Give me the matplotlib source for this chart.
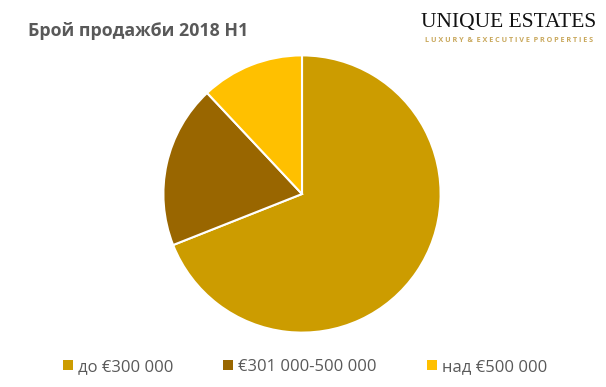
import matplotlib
matplotlib.use('Agg')
from matplotlib import pyplot as plt
from matplotlib.patches import Patch

labels = ['до €300 000', '€301 000-500 000', 'над €500 000']
values = [69, 19, 12]
colors = ['#CC9C00', '#996600', '#FFC000']

plt.rcParams['font.family'] = ['Open Sans', 'DejaVu Sans']

f = plt.figure(figsize=(6.06, 3.87), dpi=100)
W, H = 606., 387.
cx, cy, r = 302., 194., 140.
ax = f.add_axes([(cx - r) / W, (H - cy - r) / H, 2 * r / W, 2 * r / H])
ax.pie(values, colors=colors, startangle=90, counterclock=False, radius=1,
       wedgeprops=dict(edgecolor='white', linewidth=1.5))
ax.set_xlim(-1.01, 1.01)
ax.set_ylim(-1.01, 1.01)
ax.set_aspect('equal')
ax.axis('off')

f.text(28 / W, 1 - 31 / H, 'Брой продажби 2018 H1', fontsize=12.8, fontweight='bold',
       color='#595959', va='center', ha='left')

"logo"
f.text(509 / W, 1 - 22 / H, 'UNIQUE ESTATES', family='Liberation Serif', fontsize=15.5,
       color='#111111', ha='center', va='center')
f.text(509 / W, 1 - 40 / H, 'L U X U R Y  &  E X E C U T I V E  P R O P E R T I E S', fontsize=5.2,
       color='#C9A85C', ha='center', va='center', fontweight='bold')

handles = [Patch(facecolor=c, edgecolor='none') for c in colors]
f.legend(handles, labels, loc='center', bbox_to_anchor=(0.503, 1 - 367 / H), ncol=3,
         frameon=False, fontsize=12, handlelength=0.6, handleheight=0.6,
         handletextpad=0.3, columnspacing=3.0, labelcolor='#595959')

plt.savefig('out.png', dpi=100)
